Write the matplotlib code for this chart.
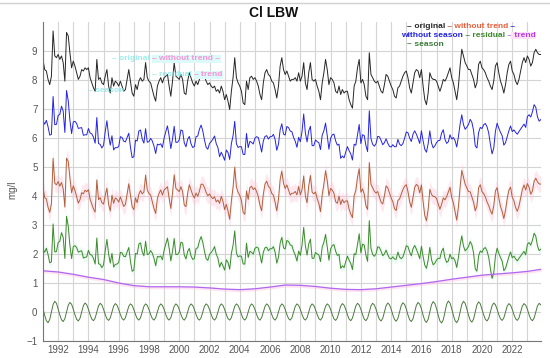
import numpy as np
import matplotlib
matplotlib.use("Agg")
import matplotlib.pyplot as plt
from matplotlib.lines import Line2D

# chloride, original series at 1/9 year steps from 1991.0
original = [
    8.71, 8.36, 8.31, 8.02, 7.84, 8.13, 9.69, 8.83, 8.77, 8.88, 8.71, 8.83, 8.60, 7.96, 9.64,
    9.52, 8.94, 8.42, 8.65, 8.48, 8.25, 8.02, 8.13, 8.36, 8.31, 8.42, 8.36, 8.42, 8.08, 7.90,
    7.73, 7.61, 8.71, 8.02, 8.08, 7.90, 7.84, 8.13, 8.36, 7.79, 7.55, 8.08, 7.79, 7.96, 7.90,
    7.79, 7.96, 7.79, 7.61, 7.67, 8.02, 8.36, 7.96, 7.55, 7.44, 7.84, 7.67, 7.96, 8.08, 7.96,
    8.02, 8.60, 8.08, 7.96, 7.90, 7.67, 7.44, 7.27, 7.79, 7.96, 8.08, 7.90, 8.08, 8.13, 8.19,
    # 1999.3 -
    7.79, 7.44, 7.96, 8.60, 8.13, 8.08, 8.02, 8.19, 8.02, 7.55, 7.50, 7.96, 8.25, 8.08, 7.90,
    7.79, 7.96, 7.84, 8.02, 8.25, 8.25, 8.13, 7.96, 7.84, 7.90, 7.79, 7.73, 7.79, 7.61, 7.67,
    7.55, 7.79, 7.61, 7.32, 7.50, 7.27, 6.98, 7.61, 8.08, 8.77, 8.08, 7.90, 7.79, 7.61, 7.21,
    7.15, 7.96, 7.67, 8.08, 8.13, 8.02, 8.08, 7.96, 7.79, 7.50, 7.32, 7.90, 8.25, 8.36, 8.19,
    8.13, 7.96, 7.90, 7.67, 7.38, 7.79, 8.48, 8.77, 8.36, 8.19, 8.31, 8.13, 7.96, 8.02,
    # 2007.6 -
    8.02, 8.08, 7.96, 8.25, 7.96, 8.13, 8.60, 7.90, 7.67, 8.25, 8.60, 8.02, 7.96, 8.02, 7.79,
    7.61, 7.32, 7.90, 8.25, 8.71, 8.36, 7.84, 8.08, 8.02, 7.90, 7.61, 7.55, 7.79, 7.50, 7.67,
    7.55, 7.61, 7.61, 7.32, 7.15, 7.03, 7.79, 7.96, 8.42, 8.71, 7.90, 8.02, 7.84, 7.44, 7.32,
    8.94, 8.19, 8.08, 7.96, 7.90, 7.96, 7.79, 7.61, 7.55, 7.84, 8.19, 8.13, 7.96, 7.79, 7.67,
    7.44, 7.38, 7.73, 7.79, 7.96, 8.13, 8.25, 8.31, 8.08, 7.73, 7.55, 7.90, 8.25, 8.36, 8.31,
    # 2015.9 -
    8.08, 8.36, 7.79, 7.32, 7.15, 7.55, 8.25, 8.08, 8.02, 8.02, 7.96, 7.79, 7.61, 7.79, 8.02,
    7.96, 8.08, 8.25, 8.42, 8.08, 7.90, 7.61, 7.32, 7.79, 8.48, 9.06, 8.83, 8.60, 8.48, 8.36,
    8.36, 8.19, 8.02, 7.73, 7.90, 8.54, 8.65, 8.42, 8.36, 8.25, 8.08, 7.96, 7.79, 7.67, 7.96,
    8.48, 8.60, 8.25, 7.96, 7.79, 7.55, 7.84, 8.25, 8.54, 8.65, 8.31, 8.19, 7.96, 7.84, 8.02,
    8.31, 8.60, 8.77, 8.60, 8.83, 8.71, 8.48, 8.60, 8.94, 9.06, 8.94, 8.88, 8.88,
]

# seasonal component: shape within a year (9 steps) and its size per year 1991..2023
season_shape = [0.31, -0.31, -0.81, -1.0, -0.70, 0.01, 0.70, 1.0, 0.81]
season_amp = [0.37, 0.33, 0.31, 0.30, 0.29, 0.28, 0.28, 0.28, 0.28, 0.28, 0.28,
              0.28, 0.28, 0.28, 0.28, 0.28, 0.28, 0.28, 0.28, 0.29, 0.30, 0.30,
              0.31, 0.32, 0.33, 0.36, 0.38, 0.37, 0.35, 0.31, 0.29, 0.29, 0.30]

# trend as drawn, at the start of each year
trend_years = list(range(1991, 2025))
trend = [1.42, 1.38, 1.30, 1.20, 1.12, 1.00, 0.91, 0.87, 0.87, 0.87, 0.86, 0.83,
         0.79, 0.77, 0.80, 0.86, 0.93, 0.92, 0.88, 0.82, 0.78, 0.77, 0.80, 0.86,
         0.92, 0.98, 1.05, 1.13, 1.20, 1.27, 1.31, 1.35, 1.40, 1.48]

labels = ["original", "without trend", "without season", "residual", "trend", "season"]
line_colors = ["#262626", "#b0603c", "#2424e0", "#3c8a2c", "#b068f0", "#4a7a3c"]
text_colors = ["#262626", "#e8603c", "#2424e0", "#3c8a2c", "#b040e0", "#3c7a3c"]

# decomposition pieces, stacked with fixed display offsets
n = len(original)
t = 1991 + np.arange(n) / 9
orig = np.array(original)
season = np.array(season_amp)[np.arange(n) // 9] * np.array(season_shape)[np.arange(n) % 9]
tr = np.interp(t, trend_years, trend)
without_trend = orig - tr - 3
without_season = orig - season - 2
residual = orig - tr - season - 5

plt.rcParams["font.family"] = ["Liberation Sans", "DejaVu Sans"]

W, H = 550, 358
fig = plt.figure(figsize=(W / 100, H / 100), dpi=100)
ax = fig.add_axes([43 / W, 1 - 341 / H, (541 - 43) / W, (341 - 22) / H])
ax.set_xlim(1991, 2023.9)
ax.set_ylim(-1, 10)

ax.set_xticks(range(1992, 2023, 2))
ax.set_xticks(range(1991, 2024, 2), minor=True)
ax.set_yticks(range(-1, 10))
ax.grid(True, which="both", color="#d4d4d4", lw=0.8)
ax.set_axisbelow(True)
ax.tick_params(which="both", length=0, colors="#555555", labelsize=7)
ax.tick_params(axis="y", pad=4)
ax.tick_params(axis="x", pad=3)
for s in ("top", "right"):
    ax.spines[s].set_visible(False)
for s in ("left", "bottom"):
    ax.spines[s].set_color("#777777")
    ax.spines[s].set_linewidth(0.8)

# soft halos seen behind some of the curves
ax.fill_between(t, without_trend - 0.28, without_trend + 0.28, color="#ffc4d8", alpha=0.4, lw=0)
ax.fill_between(t, residual - 0.15, residual + 0.15, color="#c8f5dc", alpha=0.35, lw=0)
ax.fill_between(trend_years, np.array(trend) - 0.07, np.array(trend) + 0.04,
                color="#ffc4e4", alpha=0.45, lw=0)

lw = 0.7
ax.plot(t, orig, color=line_colors[0], lw=lw)
ax.plot(t, without_season, color=line_colors[2], lw=lw)
ax.plot(t, without_trend, color=line_colors[1], lw=lw)
ax.plot(t, residual, color=line_colors[3], lw=lw)
ax.plot(trend_years, trend, color=line_colors[4], lw=lw + 0.2)
ax.plot(t, season, color=line_colors[5], lw=lw)

fig.text(274 / W, 1 - 13 / H, "Cl LBW", ha="center", va="center",
         fontsize=10, fontweight="bold", color="#111111")
fig.text(12 / W, 1 - 190 / H, "mg/l", rotation=90, ha="center", va="center",
         fontsize=7, color="#555555")
fig.add_artist(Line2D([0, 1], [1 - 2.5 / H] * 2, color="#d0d0d0", lw=1))


def chain(x, y, parts, fs=6.0, alpha=1.0):
    # text pieces placed one after another, each in its own colour
    last = None
    for s, c, bg in parts:
        kw = dict(fontsize=fs, fontweight="bold", color=c, alpha=alpha)
        if bg:
            kw["bbox"] = dict(boxstyle="square,pad=0.05", fc=bg, ec="none")
        if last is None:
            last = fig.text(x / W, 1 - y / H, s, ha="left", va="center", **kw)
        else:
            last = ax.annotate(s, xy=(1, 0), xycoords=last, ha="left", va="bottom",
                               annotation_clip=False, **kw)
    return last


# legend, flowed as coloured text
chain(407, 27, [("–", line_colors[0], None), (" " + labels[0], text_colors[0], None),
                (" –", line_colors[1], None), (" " + labels[1], text_colors[1], None),
                (" –", line_colors[2], None)])
chain(401, 35.5, [(labels[2], text_colors[2], None), (" –", line_colors[3], None),
                  (" " + labels[3], text_colors[3], None), (" –", line_colors[4], None),
                  (" " + labels[4], text_colors[4], "#ffe0f4")])
chain(407, 44, [("–", line_colors[5], None), (" " + labels[5], text_colors[5], None)])

# faint ghost of the legend inside the plot
chain(112, 59, [("– original ", "#7fe6e6", None), ("– without trend –", "#ff70c8", "#dcfafa")],
      alpha=0.75)
chain(152, 75, [("– residual ", "#7fe6e6", None), ("– trend", "#ff70c8", "#dcfafa")],
      alpha=0.75)
chain(88, 91, [("– season", "#7fe6e6", None)], alpha=0.75)

fig.savefig("out.png", dpi=100)
